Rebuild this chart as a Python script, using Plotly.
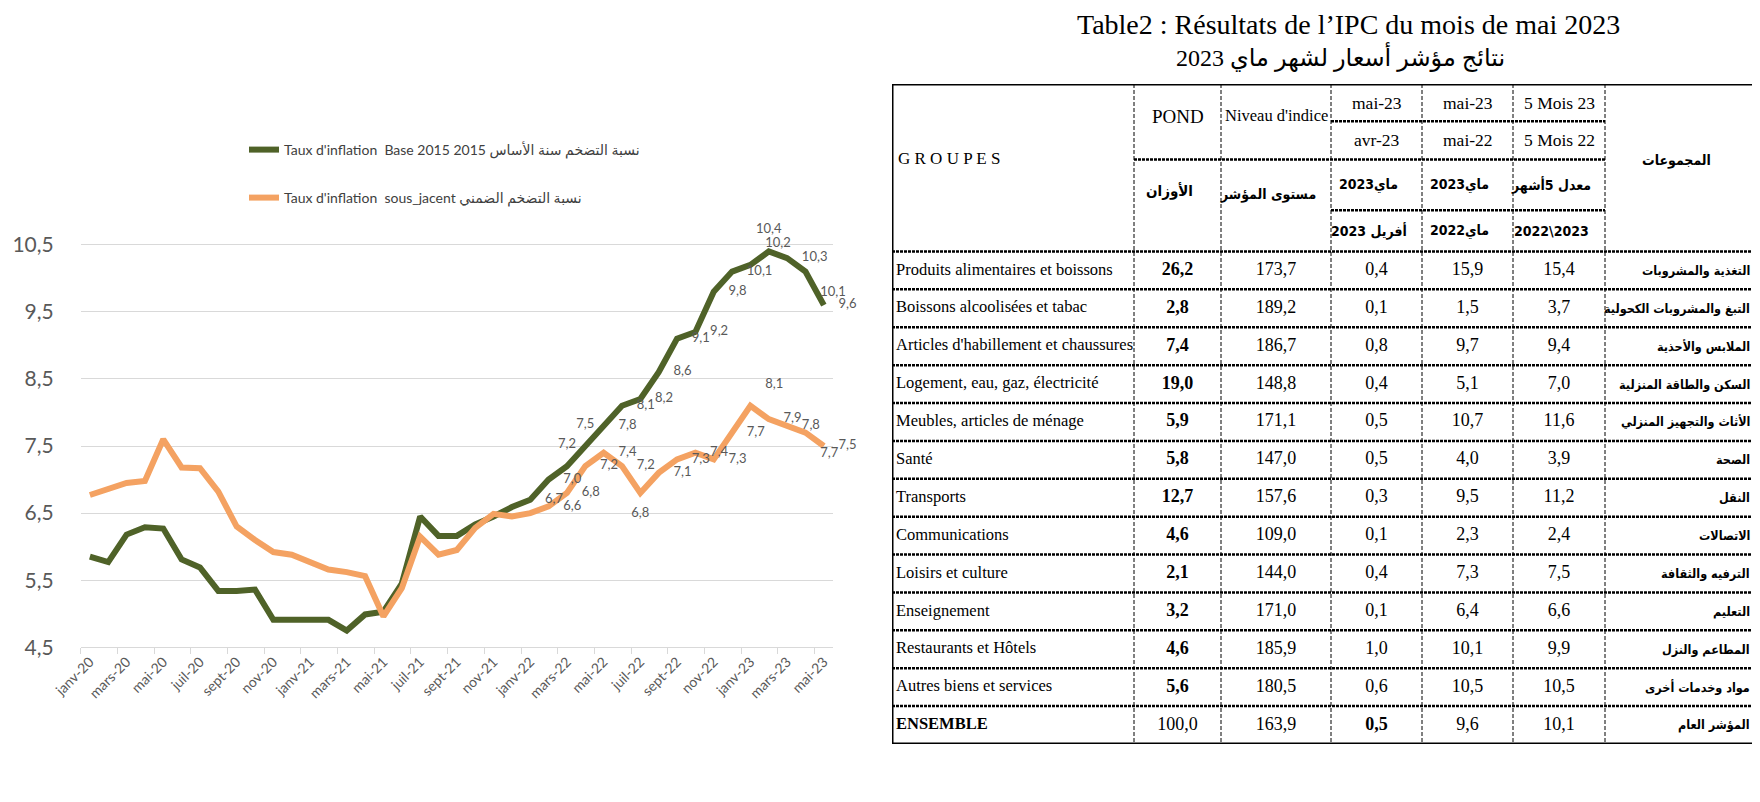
import plotly.graph_objects as go

# ---------------- données du graphique ----------------
months = ["janv-20", "févr-20", "mars-20", "avr-20", "mai-20", "juin-20", "juil-20", "août-20",
          "sept-20", "oct-20", "nov-20", "déc-20", "janv-21", "févr-21", "mars-21", "avr-21",
          "mai-21", "juin-21", "juil-21", "août-21", "sept-21", "oct-21", "nov-21", "déc-21",
          "janv-22", "févr-22", "mars-22", "avr-22", "mai-22", "juin-22", "juil-22", "août-22",
          "sept-22", "oct-22", "nov-22", "déc-22", "janv-23", "févr-23", "mars-23", "avr-23",
          "mai-23"]

infl_base = [5.85, 5.77, 6.18, 6.29, 6.27, 5.81, 5.69, 5.34, 5.34, 5.36, 4.91, 4.91, 4.91, 4.91,
             4.75, 4.99, 5.03, 5.45, 6.45, 6.16, 6.16, 6.33, 6.45, 6.59, 6.7, 7.0, 7.2, 7.5, 7.8,
             8.1, 8.2, 8.6, 9.1, 9.2, 9.8, 10.1, 10.2, 10.4, 10.3, 10.1, 9.6]

infl_core = [6.77, 6.87, 6.95, 6.98, 7.6, 7.18, 7.17, 6.82, 6.3, 6.1, 5.92, 5.88, 5.76, 5.66,
             5.62, 5.56, 4.96, 5.38, 6.15, 5.88, 5.95, 6.28, 6.49, 6.45, 6.5, 6.6, 6.8, 7.2, 7.4,
             7.2, 6.8, 7.1, 7.3, 7.4, 7.3, 7.7, 8.1, 7.9, 7.8, 7.7, 7.5]

name_base = "Taux d'inflation  Base 2015 2015 نسبة التضخم سنة الأساس"
name_core = "Taux d'inflation  sous_jacent نسبة التضخم الضمني"

# ---------------- données du tableau ----------------
groups_fr = ["Produits alimentaires et boissons", "Boissons alcoolisées et tabac",
             "Articles d'habillement et chaussures", "Logement, eau, gaz, électricité",
             "Meubles, articles de ménage", "Santé", "Transports", "Communications",
             "Loisirs et culture", "Enseignement", "Restaurants et Hôtels",
             "Autres biens et services", "ENSEMBLE"]
groups_ar = ["التغذية والمشروبات", "التبغ والمشروبات الكحولية", "الملابس والأحذية",
             "السكن والطاقة المنزلية", "الأثاث والتجهيز المنزلي", "الصحة", "النقل",
             "الاتصالات", "الترفيه والثقافة", "التعليم", "المطاعم والنزل",
             "مواد وخدمات أخرى", "المؤشر العام"]
weights = [26.2, 2.8, 7.4, 19.0, 5.9, 5.8, 12.7, 4.6, 2.1, 3.2, 4.6, 5.6, 100.0]
index_level = [173.7, 189.2, 186.7, 148.8, 171.1, 147.0, 157.6, 109.0, 144.0, 171.0, 185.9,
               180.5, 163.9]
var_month = [0.4, 0.1, 0.8, 0.4, 0.5, 0.5, 0.3, 0.1, 0.4, 0.1, 1.0, 0.6, 0.5]
var_year = [15.9, 1.5, 9.7, 5.1, 10.7, 4.0, 9.5, 2.3, 7.3, 6.4, 10.1, 10.5, 9.6]
var_5m = [15.4, 3.7, 9.4, 7.0, 11.6, 3.9, 11.2, 2.4, 7.5, 6.6, 9.9, 10.5, 10.1]

head_top = ["mai-23", "mai-23", "5 Mois 23"]
head_mid = ["avr-23", "mai-22", "5 Mois 22"]
head_ar1 = ["ماي2023", "ماي2023", "معدل 5أشهر"]
head_ar2 = ["أفريل 2023", "ماي2022", "2022\\2023"]

title_fr = "Table2 : Résultats de l’IPC du mois de mai 2023"
title_ar = "نتائج مؤشر أسعار لشهر ماي 2023"

GREEN = "#4F6228"
ORANGE = "#F4A262"
GREY = "#595959"
W, H = 1760, 802
AR_FONT = "DejaVu Sans Condensed, DejaVu Sans"
AR_SHIFT = 8   # le texte arabe est rendu légèrement décalé vers la droite


def fmt(v):
    return f"{v:.1f}".replace(".", ",")


fig = go.Figure()

# ---------------- graphique ----------------
xi = list(range(len(months)))
base_text = [fmt(v) if i >= 24 else "" for i, v in enumerate(infl_base)]
core_text = [fmt(v) if i >= 25 else "" for i, v in enumerate(infl_core)]
base_pos = ["middle right"] * len(xi)
base_pos[26] = "top center"
base_pos[27] = "top center"
base_pos[36] = "top right"
base_pos[37] = "top center"
base_pos[39] = "bottom right"
core_pos = ["middle right"] * len(xi)
core_pos[30] = "bottom center"
core_pos[36] = "top right"
core_pos[39] = "bottom right"

fig.add_trace(go.Scatter(x=xi, y=infl_base, name=name_base, mode="lines",
                         line=dict(color=GREEN, width=6), hoverinfo="skip", legend="legend"))
fig.add_trace(go.Scatter(x=xi, y=infl_core, name=name_core, mode="lines",
                         line=dict(color=ORANGE, width=6), hoverinfo="skip", legend="legend2"))
for vals, txt, pos in [(infl_base, base_text, base_pos), (infl_core, core_text, core_pos)]:
    fig.add_trace(go.Scatter(
        x=xi, y=vals, mode="markers+text", marker=dict(size=22, color="rgba(0,0,0,0)"),
        text=txt, textposition=pos, textfont=dict(family="Lato", size=13, color=GREY),
        cliponaxis=False, hoverinfo="skip", showlegend=False))

# ---------------- tableau ----------------
col_edges = [0, 242, 329, 439, 530, 621, 713, 872]
head_edges = [-4.42, -3.44, -2.43, -1.09, 0]
n_rows = len(groups_fr)
rows_y = [i + 0.5 for i in range(n_rows)]


def center(c):
    return (col_edges[c] + col_edges[c + 1]) / 2


def bold_rows(vals, rows):
    return [f"<b>{fmt(v)}</b>" if i in rows else fmt(v) for i, v in enumerate(vals)]


fig.add_trace(go.Scatter(
    x=[col_edges[0] + 4] * n_rows, y=rows_y, mode="text", textposition="middle right",
    text=[f"<b>{g}</b>" if g == "ENSEMBLE" else g for g in groups_fr],
    textfont=dict(family="Liberation Serif", size=16.5, color="black"),
    xaxis="x2", yaxis="y2", showlegend=False, hoverinfo="skip", cliponaxis=False))
num_cols = [
    (center(1), bold_rows(weights, set(range(n_rows - 1)))),
    (center(2), bold_rows(index_level, set())),
    (center(3), bold_rows(var_month, {n_rows - 1})),
    (center(4), bold_rows(var_year, set())),
    (center(5), bold_rows(var_5m, set())),
]
for cx, txt in num_cols:
    fig.add_trace(go.Scatter(
        x=[cx] * n_rows, y=rows_y, text=txt, mode="text", textposition="middle center",
        textfont=dict(family="Liberation Serif", size=18, color="black"),
        xaxis="x2", yaxis="y2", showlegend=False, hoverinfo="skip", cliponaxis=False))

annots = []


def cell(x, y, text, size=17, anchor="center", bold=False, arabic=False):
    annots.append(dict(x=x - (AR_SHIFT if arabic else 0), y=y, xref="x2", yref="y2",
                       text=f"<b>{text}</b>" if bold else text,
                       showarrow=False, xanchor=anchor, yanchor="middle",
                       font=dict(family=AR_FONT if arabic else "Liberation Serif",
                                 size=size, color="black")))


# libellés arabes des groupes (alignés à droite)
for r, g in zip(rows_y, groups_ar):
    cell(col_edges[7] - 4, r, g, 12.5, "right", bold=True, arabic=True)

# en-tête
cell(col_edges[0] + 4, -2.45, "G R O U P E S", 17, "left")
cell(center(1), -3.55, "POND", 19)
cell(center(1), -1.6, "الأوزان", 15, bold=True, arabic=True)
cell(center(2), -3.6, "Niveau d'indice", 16.5)
cell(center(2), -1.5, "مستوى المؤشر", 14, bold=True, arabic=True)
for k in range(3):
    cx = center(3 + k)
    cell(cx, (head_edges[0] + head_edges[1]) / 2, head_top[k], 17.5)
    cell(cx, (head_edges[1] + head_edges[2]) / 2, head_mid[k], 17.5)
    cell(cx, (head_edges[2] + head_edges[3]) / 2, head_ar1[k], 14, bold=True, arabic=True)
    cell(cx, (head_edges[3] + head_edges[4]) / 2, head_ar2[k], 14, bold=True, arabic=True)
cell(center(6), -2.4, "المجموعات", 14, bold=True, arabic=True)

annots.append(dict(x=1340 / W, y=1 - 17 / H, xref="paper", yref="paper", text=title_fr,
                   xanchor="center", yanchor="middle", showarrow=False,
                   font=dict(family="Liberation Serif", size=28, color="black")))
annots.append(dict(x=(1340 - AR_SHIFT) / W, y=1 - 49 / H, xref="paper", yref="paper",
                   text=title_ar, xanchor="center", yanchor="middle", showarrow=False,
                   font=dict(family="Liberation Serif, DejaVu Sans", size=24, color="black")))

shapes = []
DOTS = "3px,1px"
for c in range(1, 7):
    shapes.append(dict(type="line", xref="x2", yref="y2", x0=col_edges[c], x1=col_edges[c],
                       y0=head_edges[0], y1=n_rows, line=dict(color="black", width=1, dash="4px,2px")))
for y, c0, c1 in [(head_edges[1], 3, 6), (head_edges[2], 1, 6), (head_edges[3], 3, 6)]:
    shapes.append(dict(type="line", xref="x2", yref="y2", x0=col_edges[c0], x1=col_edges[c1],
                       y0=y, y1=y, line=dict(color="black", width=2.5, dash=DOTS)))
for r in range(n_rows):
    shapes.append(dict(type="line", xref="x2", yref="y2", x0=0, x1=col_edges[-1], y0=r, y1=r,
                       line=dict(color="black", width=2.5, dash=DOTS)))
shapes.append(dict(type="rect", xref="x2", yref="y2", x0=0, x1=col_edges[-1], y0=head_edges[0],
                   y1=n_rows, line=dict(color="black", width=3)))

legend_style = dict(xanchor="left", yanchor="middle", bgcolor="rgba(0,0,0,0)",
                    font=dict(family="Lato, DejaVu Sans", size=14, color="#404040"))
fig.update_layout(
    width=W, height=H, margin=dict(l=0, r=0, t=0, b=0, autoexpand=False),
    paper_bgcolor="white", plot_bgcolor="white", separators=", ",
    showlegend=True,
    legend=dict(x=236 / W, y=1 - 142 / H, **legend_style),
    legend2=dict(x=236 / W, y=1 - 190 / H, **legend_style),
    xaxis=dict(domain=[72.7 / W, 825 / W], range=[-0.5, 40.5], anchor="y", automargin=False,
               tickmode="array", tickvals=xi[::2], ticktext=months[::2], tickangle=-45,
               ticks="", showgrid=False, zeroline=False, showline=True,
               linecolor="#d9d9d9", linewidth=1,
               tickfont=dict(family="Lato", size=14, color=GREY),
               minor=dict(tickmode="array", tickvals=[i - 0.5 for i in range(0, 42, 2)],
                          ticks="outside", ticklen=6, tickcolor="#d9d9d9", showgrid=False)),
    yaxis=dict(domain=[1 - 639.3 / H, 1 - 209.9 / H], range=[4.5, 10.9], anchor="x",
               automargin=False,
               tickmode="array", tickvals=[4.5, 5.5, 6.5, 7.5, 8.5, 9.5, 10.5], tickformat=".1f",
               showgrid=True, gridcolor="#d9d9d9", gridwidth=1, zeroline=False, showline=False,
               ticklabelstandoff=26,
               tickfont=dict(family="Lato", size=21, color=GREY)),
    xaxis2=dict(domain=[884 / W, 1756 / W], range=[0, col_edges[-1]], anchor="y2",
                visible=False, fixedrange=True, automargin=False),
    yaxis2=dict(domain=[1 - 736 / H, 1 - 76 / H], range=[n_rows, head_edges[0]], anchor="x2",
                visible=False, fixedrange=True, automargin=False),
    annotations=annots, shapes=shapes,
)

fig.write_html("out.html")
